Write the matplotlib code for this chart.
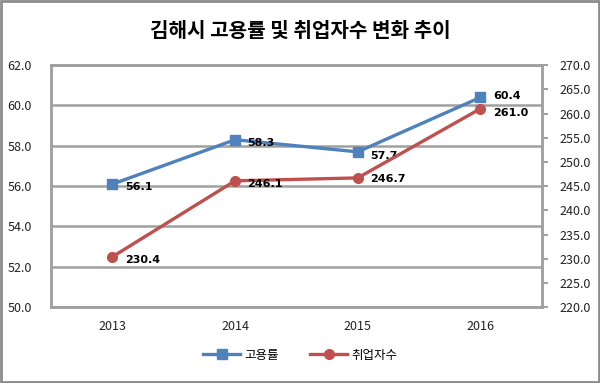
import matplotlib
matplotlib.use("Agg")
import matplotlib.pyplot as plt
from matplotlib.patches import Rectangle

plt.rcParams['font.family'] = ['Noto Sans CJK KR', 'DejaVu Sans']

years = ['2013', '2014', '2015', '2016']
employment_rate = [56.1, 58.3, 57.7, 60.4]
employed_count = [230.4, 246.1, 246.7, 261.0]
title = '김해시 고용률 및 취업자수 변화 추이'
series_names = ['고용률', '취업자수']

blue = '#4F81BD'
red = '#C0504D'
grid_c = '#A0A0A0'

fig = plt.figure(figsize=(6, 3.83), dpi=100)
ax = fig.add_axes([0.085, 0.198, 0.818, 0.632])
ax2 = ax.twinx()

x = list(range(len(years)))
l1, = ax.plot(x, employment_rate, color=blue, lw=2.4, marker='s', ms=7, zorder=3)
l2, = ax2.plot(x, employed_count, color=red, lw=2.4, marker='o', ms=7, zorder=3)

ax.set_xlim(-0.5, len(years) - 0.5)
ax.set_ylim(50, 62)
ax2.set_ylim(220, 270)
ax.set_yticks([50, 52, 54, 56, 58, 60, 62])
ax.set_yticklabels([f'{v:.1f}' for v in [50, 52, 54, 56, 58, 60, 62]])
rt = [220 + 5 * i for i in range(11)]
ax2.set_yticks(rt)
ax2.set_yticklabels([f'{v:.1f}' for v in rt])
ax.set_xticks(x)
ax.set_xticklabels(years)

for a in (ax, ax2):
    for s in a.spines.values():
        s.set_color(grid_c)
        s.set_linewidth(1.8)
ax.yaxis.grid(True, color=grid_c, lw=1.8)
ax.set_axisbelow(True)
ax.tick_params(axis='y', length=0, pad=14, labelsize=9, colors='#222222')
ax.tick_params(axis='x', length=0, pad=9, labelsize=9, colors='#222222')
ax2.tick_params(axis='y', length=4, width=1.5, color=grid_c, pad=9, labelsize=9, labelcolor='#222222')

off1 = [(9, -2), (9, -2), (9, -3), (9, 1)]
off2 = [(9, -2), (9, -2), (9, -1), (9, -3)]
for xi, v, o in zip(x, employment_rate, off1):
    ax.annotate(f'{v:.1f}', (xi, v), xytext=o, textcoords='offset points',
                ha='left', va='center', fontsize=8, fontweight='bold', family='DejaVu Sans')
for xi, v, o in zip(x, employed_count, off2):
    ax2.annotate(f'{v:.1f}', (xi, v), xytext=o, textcoords='offset points',
                 ha='left', va='center', fontsize=8, fontweight='bold', family='DejaVu Sans')

fig.text(0.5, 0.92, title, ha='center', va='center', fontsize=14.5, fontweight='bold')
fig.legend([l1, l2], series_names, loc='center', bbox_to_anchor=(0.5, 0.073), ncol=2,
           frameon=False, fontsize=9, handlelength=3, columnspacing=2.5, handletextpad=0.3)

fig.patches.append(Rectangle((0.002, 0.003), 0.996, 0.994, transform=fig.transFigure,
                             fill=False, edgecolor='#8C8C8C', lw=2))
fig.savefig('out.png', dpi=100)
